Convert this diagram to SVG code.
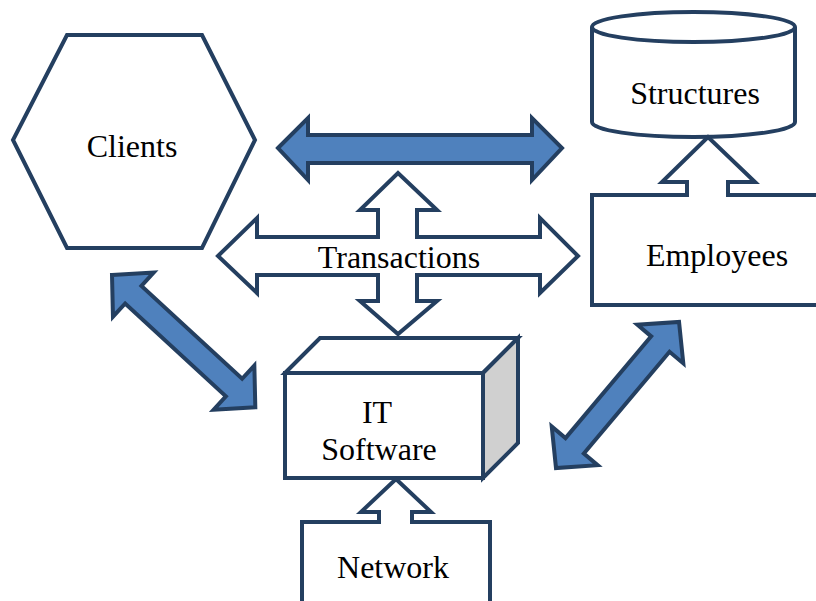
<svg xmlns="http://www.w3.org/2000/svg" width="816" height="601" viewBox="0 0 816 601">
<style>
.o{stroke:#243F60;stroke-width:4;stroke-linejoin:miter;fill:#FFFFFF}
.b{stroke:#243F60;stroke-width:4;stroke-linejoin:miter;fill:#4F81BD}
.t{font-family:"Liberation Serif","Times New Roman",serif;font-size:32px;fill:#000000;text-anchor:middle}
</style>
<rect width="816" height="601" fill="#FFFFFF"/>
<g id="clients">
<polygon class="o" points="67,35 202,35 255,140 202,248 67,248 13,140"/>
<text class="t" x="132" y="157">Clients</text>
</g>
<g id="structures">
<path class="o" d="M592,27 L592,122 A101.5,15 0 0 0 795,122 L795,27"/>
<ellipse class="o" cx="693.5" cy="27" rx="101.5" ry="15"/>
<text class="t" x="695" y="104">Structures</text>
</g>
<g id="employees">
<rect class="o" x="592" y="195" width="240" height="110"/>
<text class="t" x="717" y="266">Employees</text>
</g>
<g id="it-software">
<rect class="o" x="285" y="373" width="198" height="105"/>
<polygon class="o" points="285,373 320,338 518,338 483,373"/>
<polygon class="o" style="fill:#D0D0D0" points="483,373 518,338 518,443 483,478"/>
<text class="t" x="377" y="423">IT</text>
<text class="t" x="379" y="460">Software</text>
</g>
<g id="network">
<rect class="o" x="302" y="522" width="188" height="100"/>
<text class="t" x="393" y="578">Network</text>
</g>
<g id="connectors">
<path class="b" d="M278,148 L308,118 L308,135 L532,135 L532,118 L562,148 L532,180 L532,163 L308,163 L308,180 Z"/>
<path class="o" d="M218,256 L257,218 L257,237 L378,237 L378,210 L360,210 L398,173 L437,210 L417,210 L417,237 L540,237 L540,218 L578,256 L540,293 L540,275 L417,275 L417,301 L437,301 L398,334 L360,301 L378,301 L378,275 L257,275 L257,293 Z"/>
<path class="o" d="M687,197 L687,182 L662,182 L708,137 L755,182 L728,182 L728,197"/>
<path class="o" d="M379,524 L379,512 L361,512 L396,479 L431,512 L412,512 L412,524"/>
<path class="b" transform="translate(112,275) rotate(42.7)" d="M0,0 L29,-30 L29,-12 L166,-12 L166,-30 L195,0 L166,30 L166,12 L29,12 L29,30 Z"/>
<path class="b" transform="translate(556,468) rotate(-49.9)" d="M0,0 L29,-30 L29,-12 L162,-12 L162,-30 L191,0 L162,30 L162,12 L29,12 L29,30 Z"/>
</g>
<text class="t" x="399" y="268">Transactions</text>
</svg>
